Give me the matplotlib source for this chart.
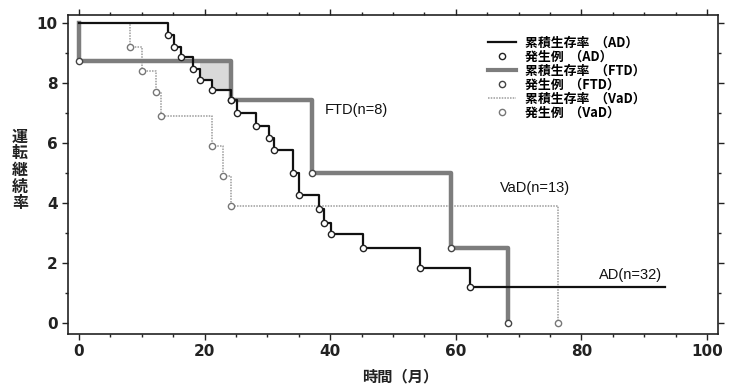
import matplotlib
matplotlib.use("Agg")
import matplotlib.pyplot as plt
from matplotlib.lines import Line2D
from matplotlib.ticker import MultipleLocator
import numpy as np

# ---- data ----
ad_times = [14.2, 15.2, 16.2, 18.1, 19.2, 21.1, 24.2, 25.2, 28.2, 30.3, 31.1,
            34.0, 35.1, 38.2, 39.0, 40.2, 45.3, 54.3, 62.3]
ad_surv = [9.6, 9.23, 8.88, 8.49, 8.12, 7.79, 7.45, 7.0, 6.57, 6.19, 5.78,
           5.01, 4.27, 3.82, 3.34, 2.97, 2.51, 1.84, 1.21]
ad_last = 93.3

ftd_times = [0.0, 24.2, 37.1, 59.2, 68.3]
ftd_surv = [8.75, 7.45, 5.0, 2.5, 0.0]

vad_times = [8.1, 10.1, 12.3, 13.0, 21.1, 23.0, 24.2, 76.2]
vad_surv = [9.2, 8.4, 7.7, 6.9, 5.9, 4.9, 3.9, 0.0]

start_value = 10.0

legend_labels = ["累積生存率  （AD）", "発生例  （AD）",
                 "累積生存率  （FTD）", "発生例  （FTD）",
                 "累積生存率  （VaD）", "発生例  （VaD）"]
group_labels = ["AD(n=32)", "FTD(n=8)", "VaD(n=13)"]
xlabel = "時間（月）"
ylabel = "運転継続率"

x_ticks = [0, 20, 40, 60, 80, 100]
y_ticks = [0, 2, 4, 6, 8, 10]

# ---- figure ----
W, H = 738, 389
fig = plt.figure(figsize=(W / 100, H / 100), dpi=100)
ax = fig.add_axes([68 / W, 1 - 334 / H, (718 - 68) / W, (334 - 15) / H])

def km_xy(times, surv, end=None):
    x = [0.0] + list(times)
    y = [start_value] + list(surv)
    if end is not None:
        x.append(end)
        y.append(surv[-1])
    return np.array(x), np.array(y)

ad_x, ad_y = km_xy(ad_times, ad_surv, ad_last)
ftd_x, ftd_y = km_xy(ftd_times, ftd_surv)
vad_x, vad_y = km_xy(vad_times, vad_surv)

# shaded region between FTD and AD
def step_val(xs, ys, t):
    idx = np.searchsorted(xs, t, side="right") - 1
    return ys[idx]

tt = np.linspace(ad_times[4], ftd_times[1], 200)
ftd_v = np.array([step_val(ftd_x, ftd_y, t) for t in tt])
ad_v = np.array([step_val(ad_x, ad_y, t) for t in tt])
ax.fill_between(tt, ad_v, ftd_v, where=ftd_v > ad_v, color="#d9d9d9",
                linewidth=0, zorder=1)

gray_ftd = "#7d7d7d"
gray_vad = "#9c9c9c"

ax.step(vad_x, vad_y, where="post", color=gray_vad, lw=1.1,
        linestyle=(0, (1, 0.8)), zorder=2)
ax.step(ftd_x, ftd_y, where="post", color=gray_ftd, lw=3.2, zorder=3)
ax.step(ad_x, ad_y, where="post", color="#111111", lw=1.6, zorder=4)

mk = dict(marker="o", linestyle="none", markersize=4.5, markeredgewidth=1.0,
          markerfacecolor="white")
ax.plot(vad_times, vad_surv, markeredgecolor="#777777", zorder=5, **mk)
ax.plot(ftd_times, ftd_surv, markeredgecolor="#444444", zorder=5, **mk)
ax.plot(ad_times, ad_surv, markeredgecolor="#222222", zorder=6, **mk)

# group labels
txt_kw = dict(fontsize=10.5, family=["Liberation Sans", "DejaVu Sans"],
              va="center", ha="left", color="#111111")
ax.text(82.8, 1.6, group_labels[0], **txt_kw)
ax.text(39.2, 7.1, group_labels[1], **txt_kw)
ax.text(67.0, 4.5, group_labels[2], **txt_kw)

# axes styling
ax.set_xlim(-1.75, 101.75)
ax.set_ylim(-0.35, 10.28)
ax.set_xticks(x_ticks)
ax.set_yticks(y_ticks)
ax.xaxis.set_minor_locator(MultipleLocator(5))
ax.yaxis.set_minor_locator(MultipleLocator(1))
ax.tick_params(which="both", direction="out", top=True, right=True,
               labeltop=False, labelright=False, width=1.0, color="#222222")
ax.tick_params(which="major", length=4)
ax.tick_params(which="minor", length=2.5)
for lbl in ax.get_xticklabels() + ax.get_yticklabels():
    lbl.set_fontweight("bold")
    lbl.set_fontsize(11)
    lbl.set_family(["DejaVu Sans"])
    lbl.set_color("#222222")
for s in ax.spines.values():
    s.set_linewidth(1.2)
    s.set_color("#222222")

cjk = ["Noto Sans CJK JP", "DejaVu Sans"]
fig.text(400 / W, 1 - 376 / H, xlabel, ha="center", va="center",
         fontsize=11, family=cjk, fontweight="bold", color="#222222")
fig.text(20 / W, 1 - 170 / H, "\n".join(ylabel), ha="center", va="center",
         fontsize=11.5, family=cjk, fontweight="bold", linespacing=1.05,
         color="#222222")

# legend
handles = [
    Line2D([], [], color="#111111", lw=1.6),
    Line2D([], [], markeredgecolor="#222222", **mk),
    Line2D([], [], color=gray_ftd, lw=3.0),
    Line2D([], [], markeredgecolor="#444444", **mk),
    Line2D([], [], color=gray_vad, lw=1.1, linestyle=(0, (1, 0.8))),
    Line2D([], [], markeredgecolor="#777777", **mk),
]
leg = fig.legend(handles, legend_labels, loc="upper left",
                 bbox_to_anchor=(488 / W, 1 - 36 / H),
                 frameon=False, handlelength=2.2, handletextpad=0.7,
                 labelspacing=0.0, borderpad=0.0, borderaxespad=0.0,
                 prop={"family": cjk, "size": 9.3, "weight": "bold"})

fig.savefig("out.png", dpi=100)
